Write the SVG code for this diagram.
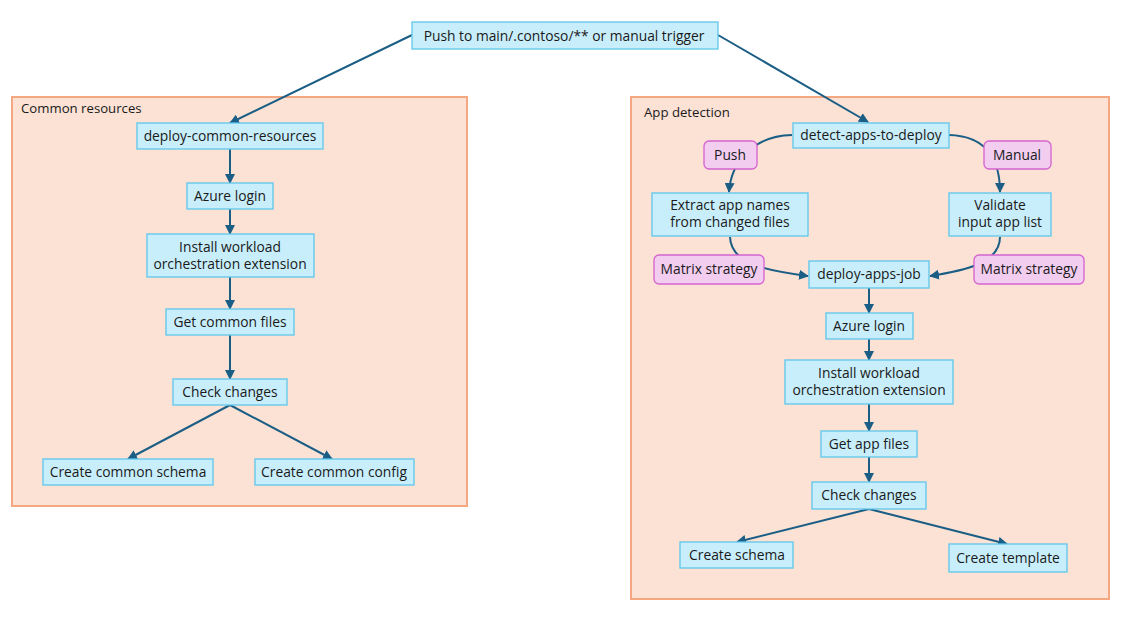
<svg xmlns="http://www.w3.org/2000/svg" width="1132" height="628" viewBox="0 0 1132 628">
<style>
.bg{fill:#ffffff}
.cont{fill:#fbe2d5;stroke:#f4a882;stroke-width:2}
.n{fill:#c9eefb;stroke:#5fc6ec;stroke-width:1.3}
.p{fill:#f2cdf0;stroke:#d563d0;stroke-width:1.3}
.t{font-family:"Open Sans","Liberation Sans",Arial,sans-serif;font-size:13.8px;fill:#1a1a1a;text-anchor:middle}
.cl{font-family:"Open Sans","Liberation Sans",Arial,sans-serif;font-size:13.2px;fill:#1a1a1a}
.c{fill:none;stroke:#1b5e85;stroke-width:2}
.a{marker-end:url(#ah)}
</style>
<defs>
<marker id="ah" viewBox="0 0 10 10" refX="9" refY="5" markerWidth="10" markerHeight="10" markerUnits="userSpaceOnUse" orient="auto">
<path d="M0,0 L10,5 L0,10 z" fill="#1b5e85"/>
</marker>
</defs>
<rect class="bg" x="0" y="0" width="1132" height="628"/>
<g id="common-resources">
<rect class="cont" x="12" y="97" width="455" height="409"/>
<text class="cl" x="21" y="113">Common resources</text>
</g>
<g id="app-detection">
<rect class="cont" x="631" y="97" width="478" height="502"/>
<text class="cl" x="644" y="117">App detection</text>
</g>
<g id="connectors">
<path class="c a" d="M412,35 L230,123"/>
<path class="c a" d="M718,35 L868,122"/>
<path class="c a" d="M230,149 L230,183"/>
<path class="c a" d="M230,209 L230,234"/>
<path class="c a" d="M230,277 L230,309"/>
<path class="c a" d="M230,335 L230,379"/>
<path class="c a" d="M230,405 L128,459"/>
<path class="c a" d="M230,405 L332,459"/>
<path class="c a" d="M792,135 C752,136 731,163 729,192"/>
<path class="c a" d="M949,135 C989,136 1000,163 1000,192"/>
<path class="c a" d="M730,237 C731,266 772,271 808,276"/>
<path class="c a" d="M1000,237 C1000,264 962,271 930,276"/>
<path class="c a" d="M869,288 L869,313"/>
<path class="c a" d="M869,339 L869,360"/>
<path class="c a" d="M869,404 L869,431"/>
<path class="c a" d="M869,457 L869,482"/>
<path class="c a" d="M869,509 L737,542"/>
<path class="c a" d="M869,509 L1007,544"/>
</g>
<g id="trigger">
<rect class="n" x="412" y="22" width="306" height="27"/>
<text class="t" x="564" y="40.5">Push to main/.contoso/** or manual trigger</text>
</g>
<g id="deploy-common-resources">
<rect class="n" x="137" y="123" width="186" height="26"/>
<text class="t" x="230" y="140.5">deploy-common-resources</text>
</g>
<g id="azure-login-1">
<rect class="n" x="187" y="183" width="86" height="26"/>
<text class="t" x="230" y="200.5">Azure login</text>
</g>
<g id="install-1">
<rect class="n" x="147" y="234" width="167" height="43"/>
<text class="t" x="230" y="252">Install workload</text>
<text class="t" x="230" y="269">orchestration extension</text>
</g>
<g id="get-common-files">
<rect class="n" x="166" y="309" width="128" height="26"/>
<text class="t" x="230" y="326.5">Get common files</text>
</g>
<g id="check-changes-1">
<rect class="n" x="173" y="379" width="114" height="26"/>
<text class="t" x="230" y="396.5">Check changes</text>
</g>
<g id="create-common-schema">
<rect class="n" x="43" y="459" width="170" height="26"/>
<text class="t" x="128" y="476.5">Create common schema</text>
</g>
<g id="create-common-config">
<rect class="n" x="255" y="459" width="159" height="26"/>
<text class="t" x="334" y="476.5">Create common config</text>
</g>
<g id="detect-apps-to-deploy">
<rect class="n" x="793" y="123" width="156" height="25"/>
<text class="t" x="871" y="140">detect-apps-to-deploy</text>
</g>
<g id="push">
<rect class="p" x="704" y="141" width="53" height="28" rx="5"/>
<text class="t" x="730" y="160">Push</text>
</g>
<g id="manual">
<rect class="p" x="984" y="141" width="67" height="28" rx="5"/>
<text class="t" x="1017" y="160">Manual</text>
</g>
<g id="extract-app-names">
<rect class="n" x="652" y="193" width="156" height="43"/>
<text class="t" x="730" y="210">Extract app names</text>
<text class="t" x="730" y="227">from changed files</text>
</g>
<g id="validate">
<rect class="n" x="949" y="193" width="102" height="43"/>
<text class="t" x="1000" y="210">Validate</text>
<text class="t" x="1000" y="227">input app list</text>
</g>
<g id="matrix-left">
<rect class="p" x="654" y="255" width="110" height="29" rx="5"/>
<text class="t" x="709" y="274">Matrix strategy</text>
</g>
<g id="matrix-right">
<rect class="p" x="974" y="255" width="110" height="29" rx="5"/>
<text class="t" x="1029" y="274">Matrix strategy</text>
</g>
<g id="deploy-apps-job">
<rect class="n" x="809" y="261" width="120" height="27"/>
<text class="t" x="869" y="279">deploy-apps-job</text>
</g>
<g id="azure-login-2">
<rect class="n" x="826" y="313" width="87" height="26"/>
<text class="t" x="869" y="330.5">Azure login</text>
</g>
<g id="install-2">
<rect class="n" x="785" y="360" width="168" height="44"/>
<text class="t" x="869" y="378">Install workload</text>
<text class="t" x="869" y="395">orchestration extension</text>
</g>
<g id="get-app-files">
<rect class="n" x="821" y="431" width="96" height="26"/>
<text class="t" x="869" y="448.5">Get app files</text>
</g>
<g id="check-changes-2">
<rect class="n" x="812" y="482" width="114" height="27"/>
<text class="t" x="869" y="500">Check changes</text>
</g>
<g id="create-schema">
<rect class="n" x="680" y="542" width="113" height="26"/>
<text class="t" x="737" y="560">Create schema</text>
</g>
<g id="create-template">
<rect class="n" x="949" y="544" width="118" height="28"/>
<text class="t" x="1008" y="563">Create template</text>
</g>
</svg>
